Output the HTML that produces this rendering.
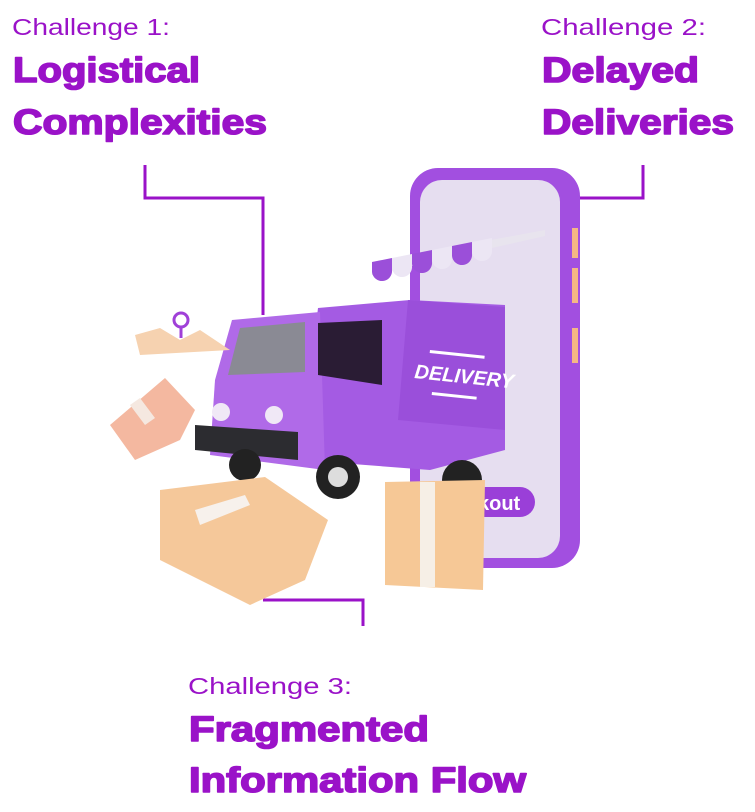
<!DOCTYPE html>
<html><head><meta charset="utf-8"><style>
html,body{margin:0;padding:0;background:#fff;}
svg{display:block;}
</style></head><body>
<svg width="755" height="812" viewBox="0 0 755 812" xmlns="http://www.w3.org/2000/svg">
<g font-family="Liberation Sans, sans-serif" fill="#9a12c8">
<text x="12" y="35" font-size="23" textLength="158" lengthAdjust="spacingAndGlyphs">Challenge 1:</text>
<text x="541" y="35" font-size="23" textLength="165" lengthAdjust="spacingAndGlyphs">Challenge 2:</text>
<text x="188" y="694" font-size="23" textLength="164" lengthAdjust="spacingAndGlyphs">Challenge 3:</text>
</g>
<g font-family="Liberation Sans, sans-serif" fill="#9a12c8" stroke="#9a12c8" stroke-width="1.6" stroke-linejoin="round" font-weight="bold" font-size="35">
<text x="13" y="82" textLength="187" lengthAdjust="spacingAndGlyphs">Logistical</text>
<text x="13" y="134" textLength="254" lengthAdjust="spacingAndGlyphs">Complexities</text>
<text x="542" y="82" textLength="157" lengthAdjust="spacingAndGlyphs">Delayed</text>
<text x="542" y="134" textLength="192" lengthAdjust="spacingAndGlyphs">Deliveries</text>
<text x="189" y="741" textLength="240" lengthAdjust="spacingAndGlyphs">Fragmented</text>
<text x="189" y="792" textLength="337" lengthAdjust="spacingAndGlyphs">Information Flow</text>
</g>
<g stroke="#9a12c8" stroke-width="3" fill="none">
<polyline points="145,165 145,198 263,198 263,315"/>
<polyline points="643,165 643,198 578,198"/>
<polyline points="263,600 363,600 363,626"/>
</g>
<!-- phone -->
<rect x="410" y="168" width="170" height="400" rx="28" fill="#a24fe0"/>
<rect x="420" y="180" width="140" height="378" rx="22" fill="#e6def0"/>
<rect x="572" y="228" width="6" height="30" fill="#f5b784"/>
<rect x="572" y="268" width="6" height="35" fill="#f5b784"/>
<rect x="572" y="328" width="6" height="35" fill="#f5b784"/>
<rect x="460" y="487" width="75" height="30" rx="15" fill="#9a3fd8"/>
<text x="478" y="510" font-family="Liberation Sans, sans-serif" font-weight="bold" font-size="20" fill="#fff">kout</text>
<!-- awning -->
<polygon points="372,262 545,230 545,236 372,275" fill="#e8e4ee"/>
<g>
<path d="M372,262 l20,-4 v12 a10,10 0 0 1 -20,2z" fill="#9b4fd9"/>
<path d="M392,258 l20,-4 v12 a10,10 0 0 1 -20,2z" fill="#ece6f4"/>
<path d="M412,254 l20,-4 v12 a10,10 0 0 1 -20,2z" fill="#9b4fd9"/>
<path d="M432,250 l20,-4 v12 a10,10 0 0 1 -20,2z" fill="#ece6f4"/>
<path d="M452,246 l20,-4 v12 a10,10 0 0 1 -20,2z" fill="#9b4fd9"/>
<path d="M472,242 l20,-4 v12 a10,10 0 0 1 -20,2z" fill="#ece6f4"/>
</g>
<!-- truck -->
<polygon points="318,308 410,300 505,305 505,450 430,470 300,460" fill="#a45be3"/>
<polygon points="408,300 505,307 505,430 398,420" fill="#9a4fda"/>
<polygon points="232,320 320,312 325,470 210,455 215,380" fill="#b06ae8"/>
<polygon points="240,328 305,322 305,372 228,375" fill="#8a8a94"/>
<polygon points="318,323 382,320 382,385 318,375" fill="#2a1c34"/>
<polygon points="195,425 298,432 298,460 195,450" fill="#2c2c30"/>
<circle cx="221" cy="412" r="9" fill="#f0e8f6"/>
<circle cx="274" cy="415" r="9" fill="#f0e8f6"/>
<rect x="430" y="350" width="55" height="3" fill="#fff" transform="rotate(6 430 350)"/>
<text x="414" y="378" font-family="Liberation Sans, sans-serif" font-weight="bold" font-style="italic" font-size="20" fill="#fff" transform="rotate(6 414 378)">DELIVERY</text>
<rect x="432" y="392" width="45" height="3" fill="#fff" transform="rotate(6 432 392)"/>
<circle cx="338" cy="477" r="22" fill="#222"/>
<circle cx="338" cy="477" r="10" fill="#ddd"/>
<circle cx="462" cy="480" r="20" fill="#222"/>
<circle cx="245" cy="465" r="16" fill="#222"/>
<!-- map -->
<polygon points="135,335 160,328 180,340 200,330 230,350 140,355" fill="#f6d2b0"/>
<circle cx="181" cy="320" r="7" fill="none" stroke="#a040d8" stroke-width="3"/>
<line x1="181" y1="327" x2="181" y2="338" stroke="#a040d8" stroke-width="3"/>
<!-- boxes -->
<polygon points="110,425 165,378 195,410 180,440 135,460" fill="#f4b8a0"/>
<polygon points="130,405 140,398 155,418 145,425" fill="#f5e8e0"/>
<polygon points="160,490 265,477 328,520 305,580 250,605 160,560" fill="#f5c89a"/>
<polygon points="195,510 245,495 250,505 200,525" fill="#f7f1ec"/>
<polygon points="385,482 485,480 483,590 385,585" fill="#f6c896"/>
<rect x="420" y="482" width="15" height="105" fill="#f6efe6"/>
</svg>
</body></html>
